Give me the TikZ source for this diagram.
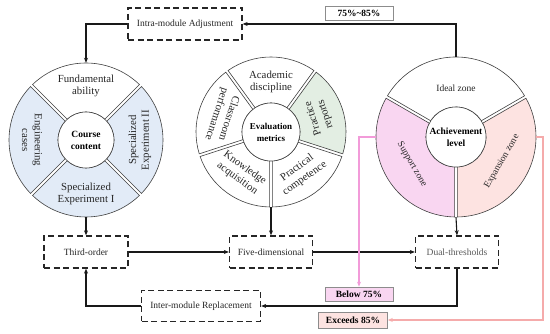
\documentclass[tikz,border=0pt]{standalone}
\usepackage{fontspec}
\setmainfont{Liberation Serif}
\usetikzlibrary{arrows.meta}
\definecolor{lblue}{HTML}{E2EBF7}
\definecolor{lgreen}{HTML}{E3EEE3}
\definecolor{lpink}{HTML}{F9D6F1}
\definecolor{lsalm}{HTML}{FDE3E1}
\definecolor{pinkln}{HTML}{F29BD9}
\definecolor{salmln}{HTML}{F5ABAB}
\newcommand\mysector[7]{%
  \pgfmathsetmacro\sgdo{asin(1.4/#4)}%
  \pgfmathsetmacro\sgdi{asin(1.4/#3)}%
  \pgfmathsetmacro\sgaa{#5+\sgdo}%
  \pgfmathsetmacro\sgab{#6-\sgdo}%
  \pgfmathsetmacro\sgac{#6-\sgdi}%
  \pgfmathsetmacro\sgad{#5+\sgdi}%
  \draw[seg, fill=#7] ([shift={(#1,#2)}]\sgaa:#4) arc[start angle=\sgaa, end angle=\sgab, radius=#4] -- ([shift={(#1,#2)}]\sgac:#3) arc[start angle=\sgac, end angle=\sgad, radius=#3] -- cycle;%
}
\begin{document}
\begin{tikzpicture}[x=1pt,y=1pt,
  seg/.style={draw=black!75, line width=0.6pt},
  hub/.style={circle, draw=black!75, line width=0.6pt, fill=white, inner sep=0, align=center, font=\bfseries\fontsize{9.5}{12}\selectfont},
  ring/.style={circle, inner sep=0},
  lbl/.style={align=center, inner sep=0, font=\fontsize{10.8}{12.8}\selectfont, text=black!85},
  zlbl/.style={align=center, inner sep=0, font=\fontsize{9.5}{11.5}\selectfont, text=black!85},
  dbox/.style={draw=black!85, line width=1.3pt, dash pattern=on 6pt off 3.5pt, minimum height=32pt, inner sep=0, font=\fontsize{9.5}{11}\selectfont, text=black!85},
  tag/.style={draw=black!45, line width=0.6pt, minimum height=14pt, inner sep=0, font=\bfseries\fontsize{9.5}{11}\selectfont},
  conn/.style={draw=black!90, line width=1.1pt, -{Stealth[length=5pt,width=4pt]}},
  pconn/.style={draw=pinkln, line width=1.1pt, -{Stealth[length=5pt,width=4pt]}},
  sconn/.style={draw=salmln, line width=1.1pt, -{Stealth[length=5pt,width=4pt]}}
]
\useasboundingbox (0,0) rectangle (550,334);

% ---------- boxes ----------
\node[dbox, minimum width=114pt] (Intra) at (185,310) {Intra-module Adjustment};
\node[tag, minimum width=68pt, fill=white] (T1) at (359,321) {75\%\textasciitilde85\%};
\node[dbox, minimum width=84pt] (Third) at (86,82) {Third-order};
\node[dbox, minimum width=83pt] (Five) at (271,82) {Five-dimensional};
\node[dbox, minimum width=83pt, text=black!65] (Dual) at (457,82) {Dual-thresholds};
\node[dbox, minimum width=119pt, minimum height=31pt] (Inter) at (201,28) {Inter-module Replacement};
\node[tag, minimum width=68pt, fill=lpink] (Below) at (359,40) {Below 75\%};
\node[tag, minimum width=69pt, minimum height=16pt, fill=lsalm] (Exceeds) at (353,14) {Exceeds 85\%};

% ---------- left wheel ----------
\node[ring, minimum size=154pt] (L) at (86,194) {};
\mysector{86}{194}{28}{77}{45}{135}{white}
\mysector{86}{194}{28}{77}{135}{225}{lblue}
\mysector{86}{194}{28}{77}{225}{315}{lblue}
\mysector{86}{194}{28}{77}{315}{405}{lblue}
\node[hub, minimum size=56pt] (Lc) at (86,194) {Course\\content};
\node[lbl] (L1) at ([shift={(86,194)}]90:54) {Fundamental\\ability};
\node[lbl, rotate=-90] (L2) at ([shift={(86,194)}]180:54) {Engineering\\cases};
\node[lbl] (L3) at ([shift={(86,194)}]270:54) {Specialized\\Experiment I};
\node[lbl, rotate=90] (L4) at ([shift={(86,194)}]0:54) {Specialized\\Experiment II};

% ---------- middle wheel ----------
\node[ring, minimum size=150pt] (M) at (271,202) {};
\mysector{271}{202}{29}{75}{54}{126}{white}
\mysector{271}{202}{29}{75}{126}{198}{white}
\mysector{271}{202}{29}{75}{198}{270}{white}
\mysector{271}{202}{29}{75}{270}{342}{white}
\mysector{271}{202}{29}{75}{342}{414}{lgreen}
\node[hub, minimum size=58pt, font=\bfseries\fontsize{9}{12}\selectfont] (Mc) at (271,202) {Evaluation\\metrics};
\node[lbl] (M1) at ([shift={(271,202)}]90:50) {Academic\\discipline};
\node[lbl, rotate=108] (M2) at ([shift={(271,202)}]18:51) {Practice\\reports};
\node[lbl, rotate=36] (M3) at ([shift={(271,202)}]306:51) {Practical\\competence};
\node[lbl, rotate=-36] (M4) at ([shift={(271,202)}]234:51) {Knowledge\\acquisition};
\node[lbl, rotate=-108] (M5) at ([shift={(271,202)}]162:51) {Classroom\\performance};

% ---------- right wheel ----------
\node[ring, minimum size=160pt] (R) at (456,197) {};
\mysector{456}{197}{30}{80}{30}{150}{white}
\mysector{456}{197}{30}{80}{150}{270}{lpink}
\mysector{456}{197}{30}{80}{270}{390}{lsalm}
\node[hub, minimum size=60pt] (Rc) at (456,197) {Achievement\\level};
\node[zlbl] (R1) at ([shift={(456,197)}]90:49) {Ideal zone};
\node[zlbl, rotate=-60] (R2) at ([shift={(456,197)}]212:52) {Support zone};
\node[zlbl, rotate=60] (R3) at ([shift={(456,197)}]332:52) {Expansion zone};

% ---------- connectors ----------
\draw[conn] (R.north) |- (Intra.east);
\draw[conn] (Intra.west) -| (L.north);
\draw[conn] (L.south) -- (Third.north);
\draw[conn] (M.south) -- (Five.north);
\draw[conn] (R.south) -- (Dual.north);
\draw[conn] (Third.east) -- (Five.west);
\draw[conn] (Five.east) -- (Dual.west);
\draw[conn] (Dual.south) |- (Inter.east);
\draw[conn] (Inter.west) -| (Third.south);
\draw[pconn] (R.west) -| (Below.north);
\coordinate (sc) at (543,14);
\draw[sconn] (R.east) -| (sc) -- (Exceeds.east);
\end{tikzpicture}
\end{document}
